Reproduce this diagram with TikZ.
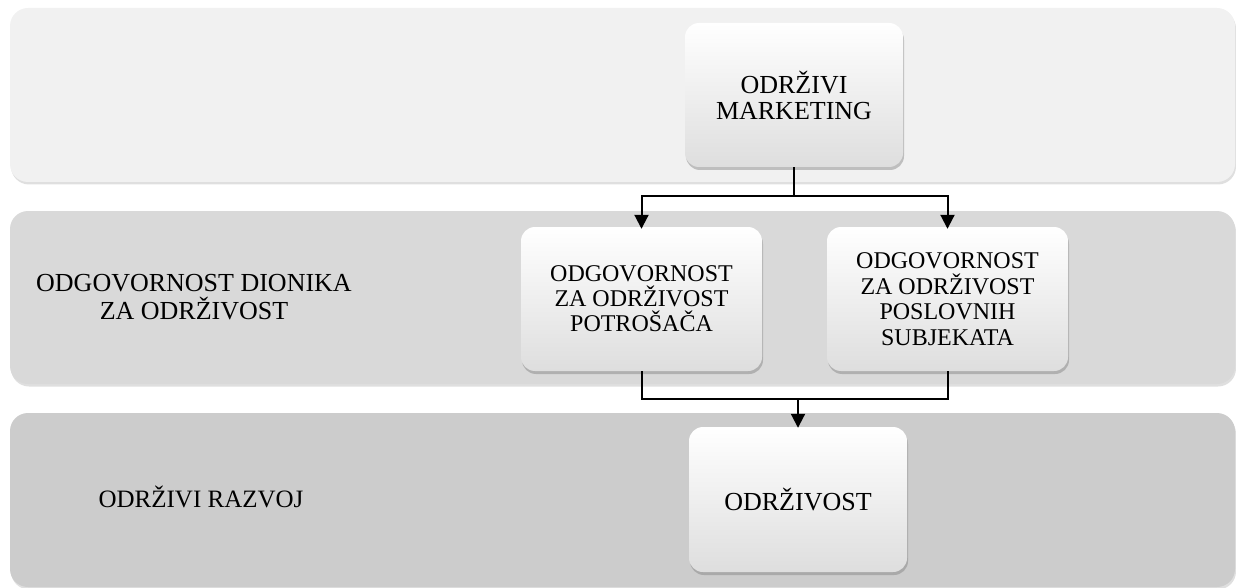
\documentclass[tikz,border=0pt]{standalone}
\usepackage{fontspec}
\setmainfont{Liberation Serif}
\usetikzlibrary{shadows,arrows.meta}
\definecolor{bandone}{HTML}{F1F1F1}
\definecolor{bandtwo}{HTML}{D9D9D9}
\definecolor{bandthree}{HTML}{CCCCCC}

\begin{document}
\begin{tikzpicture}[x=1pt,y=-1pt]
        \tikzstyle{band}=[rectangle,rounded corners=18pt,minimum width=1225pt,
        minimum height=174pt,inner sep=0pt,drop shadow={opacity=0.25,shadow
        xshift=1pt,shadow yshift=-2.5pt}]
        \tikzstyle{box}=[rectangle,rounded corners=14pt,top color=white,bottom
        color=black!13,minimum height=144pt,inner sep=0pt,align=center,
        font=\fontsize{26}{26}\selectfont,drop shadow={opacity=0.45,shadow
        xshift=1pt,shadow yshift=-3pt}]
        \tikzstyle{lbl}=[align=center,font=\fontsize{26}{28}\selectfont]
        \tikzstyle{conn}=[line width=2pt]
        \tikzstyle{arr}=[conn,-{Triangle[length=14pt,width=14pt]}]
        \useasboundingbox (0,0) rectangle (1236,588);
        % three bands
        \node[band,fill=bandone] (bandA) at (622.5,95) {};
        \node[band,fill=bandtwo,minimum height=173pt] (bandB) at (622.5,297.5) {};
        \node[band,fill=bandthree] (bandC) at (622.5,500) {};
        \node[lbl] (dionici) at (194,297) {ODGOVORNOST DIONIKA\\ZA ODRŽIVOST};
        \node[lbl,font=\fontsize{25}{27}\selectfont] (razvoj) at (201,496.5) {ODRŽIVI RAZVOJ};
        % boxes
        \node[box,minimum width=218pt] (mark) at (794,95) {ODRŽIVI\\MARKETING};
        \node[box,minimum width=241pt,font=\fontsize{24}{25}\selectfont] (potr) at (641.5,299) {ODGOVORNOST\\ZA ODRŽIVOST\\POTROŠAČA};
        \node[box,minimum width=241pt,font=\fontsize{24}{25.5}\selectfont] (posl) at (947.5,299) {ODGOVORNOST\\ZA ODRŽIVOST\\POSLOVNIH\\SUBJEKATA};
        \node[box,minimum width=218pt,minimum height=145pt] (odr) at (798,499.5) {ODRŽIVOST};
        % connectors
        \coordinate (split) at (794,196);
        \coordinate (join) at (798,399);
        \draw[conn] (mark.south) -- (split);
        \draw[arr] (split) -| ([yshift=-2pt]potr.north);
        \draw[arr] (split) -| ([yshift=-2pt]posl.north);
        \draw[conn] (potr.south) |- (join) -| (posl.south);
        \draw[arr] (join) -- ([yshift=-1pt]odr.north);
\end{tikzpicture}
\end{document}
